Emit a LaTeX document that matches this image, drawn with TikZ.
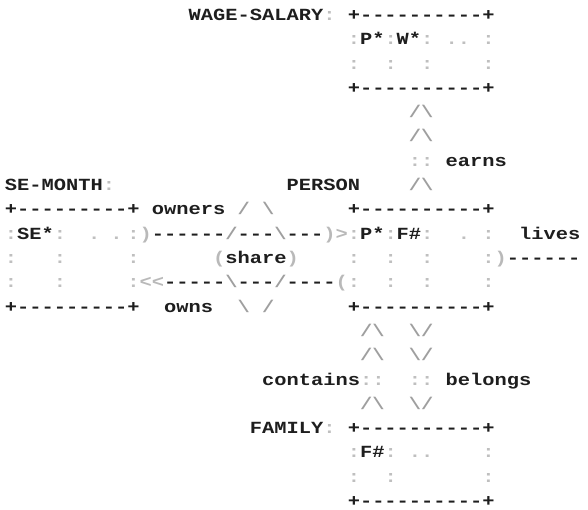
\documentclass[tikz,border=0pt]{standalone}
\usepackage{fontspec}
\setmonofont[FakeStretch=1.2]{Liberation Mono}
\definecolor{ink}{HTML}{1E1E1E}
\newcommand\bs{\textbackslash}
\begin{document}
\begin{tikzpicture}[x=12.2418pt,y=-24.3pt,
  ch/.style={inner sep=0pt,outer sep=0pt,anchor=base west,
    font=\ttfamily\bfseries\fontsize{17pt}{20pt}\selectfont,text=ink},
  dim/.style={ch,text=gray!50},
  sl/.style={ch,text=gray!75},
  pr/.style={ch,text=gray!55}]
\path[use as bounding box] (0pt,0pt) rectangle (588pt,-510pt);
\begin{scope}[shift={(5pt,-20.5pt)}]
% ---- WAGE-SALARY record
\node[ch]  (ws)   at (15,0) {WAGE-SALARY};
\node[dim] (wsc)  at (26,0) {:};
\node[ch]  (wst)  at (28,0) {+----------+};
\node[ch]  (wsp)  at (29,1) {P*};
\node[ch]  (wsw)  at (32,1) {W*};
\node[dim] (wsd1) at (36,1) {.};
\node[dim] (wsd2) at (37,1) {.};
\foreach \c/\r in {28/1,31/1,34/1,39/1,28/2,31/2,34/2,39/2}
  \node[dim] (wsk-\c-\r) at (\c,\r) {:};
\node[ch]  (wsb)  at (28,3) {+----------+};
% ---- earns
\node[sl]  (e1) at (33,4) {/\bs};
\node[sl]  (e2) at (33,5) {/\bs};
\node[dim] (e3) at (33,6) {::};
\node[ch]  (earns) at (36,6) {earns};
\node[sl]  (e4) at (33,7) {/\bs};
% ---- SE-MONTH record
\node[ch]  (se)   at (0,7) {SE-MONTH};
\node[dim] (sec)  at (8,7) {:};
\node[ch]  (set)  at (0,8) {+---------+};
\node[ch]  (sek)  at (1,9) {SE*};
\node[dim] (sed1) at (6.8,9) {.};
\node[dim] (sed2) at (8.6,9) {.};
\foreach \c/\r in {0/9,4/9,10/9,0/10,4/10,10/10,0/11,4/11,10/11}
  \node[dim] (sek-\c-\r) at (\c,\r) {:};
\node[ch]  (seb)  at (0,12) {+---------+};
% ---- share relationship
\node[ch]  (owners) at (12,8) {owners};
\node[sl]  (d1) at (19,8) {/};
\node[sl]  (d2) at (21,8) {\bs};
\node[pr]  (o1) at (11,9) {)};
\node[ch]  (o2) at (12,9) {------};
\node[sl]  (o3) at (18,9) {/};
\node[ch]  (o4) at (19,9) {---};
\node[sl]  (o5) at (22,9) {\bs};
\node[ch]  (o6) at (23,9) {---};
\node[pr]  (o7) at (26,9) {)>};
\node[pr]  (s1) at (17,10) {(};
\node[ch]  (share) at (18,10) {share};
\node[pr]  (s2) at (23,10) {)};
\node[pr]  (w1) at (11,11) {<<};
\node[ch]  (w2) at (13,11) {-----};
\node[sl]  (w3) at (18,11) {\bs};
\node[ch]  (w4) at (19,11) {---};
\node[sl]  (w5) at (22,11) {/};
\node[ch]  (w6) at (23,11) {----};
\node[pr]  (w7) at (27,11) {(};
\node[ch]  (owns) at (13,12) {owns};
\node[sl]  (d3) at (19,12) {\bs};
\node[sl]  (d4) at (21,12) {/};
% ---- PERSON record
\node[ch]  (pe)   at (23,7) {PERSON};
\node[ch]  (pet)  at (28,8) {+----------+};
\node[ch]  (pep)  at (29,9) {P*};
\node[ch]  (pef)  at (32,9) {F\#};
\node[dim] (ped)  at (37,9) {.};
\foreach \c/\r in {28/9,31/9,34/9,39/9,28/10,31/10,34/10,39/10,28/11,31/11,34/11,39/11}
  \node[dim] (pek-\c-\r) at (\c,\r) {:};
\node[ch]  (peb)  at (28,12) {+----------+};
% ---- lives
\node[ch]  (lives) at (42,9) {lives};
\node[pr]  (l1) at (40,10) {)};
\node[ch]  (l2) at (41,10) {------};
% ---- contains / belongs
\foreach \r in {13,14,16}{
  \node[sl] (ca-\r) at (29,\r) {/\bs};
  \node[sl] (be-\r) at (33,\r) {\bs/};
}
\node[ch]  (contains) at (21,15) {contains};
\node[dim] (ca-15) at (29,15) {::};
\node[dim] (be-15) at (33,15) {::};
\node[ch]  (belongs) at (36,15) {belongs};
% ---- FAMILY record
\node[ch]  (fa)   at (20,17) {FAMILY};
\node[dim] (fac)  at (26,17) {:};
\node[ch]  (fat)  at (28,17) {+----------+};
\node[ch]  (faf)  at (29,18) {F\#};
\node[dim] (fad1) at (33,18) {.};
\node[dim] (fad2) at (34,18) {.};
\foreach \c/\r in {28/18,31/18,39/18,28/19,31/19,39/19}
  \node[dim] (fak-\c-\r) at (\c,\r) {:};
\node[ch]  (fab)  at (28,20) {+----------+};
\end{scope}
\end{tikzpicture}
\end{document}
